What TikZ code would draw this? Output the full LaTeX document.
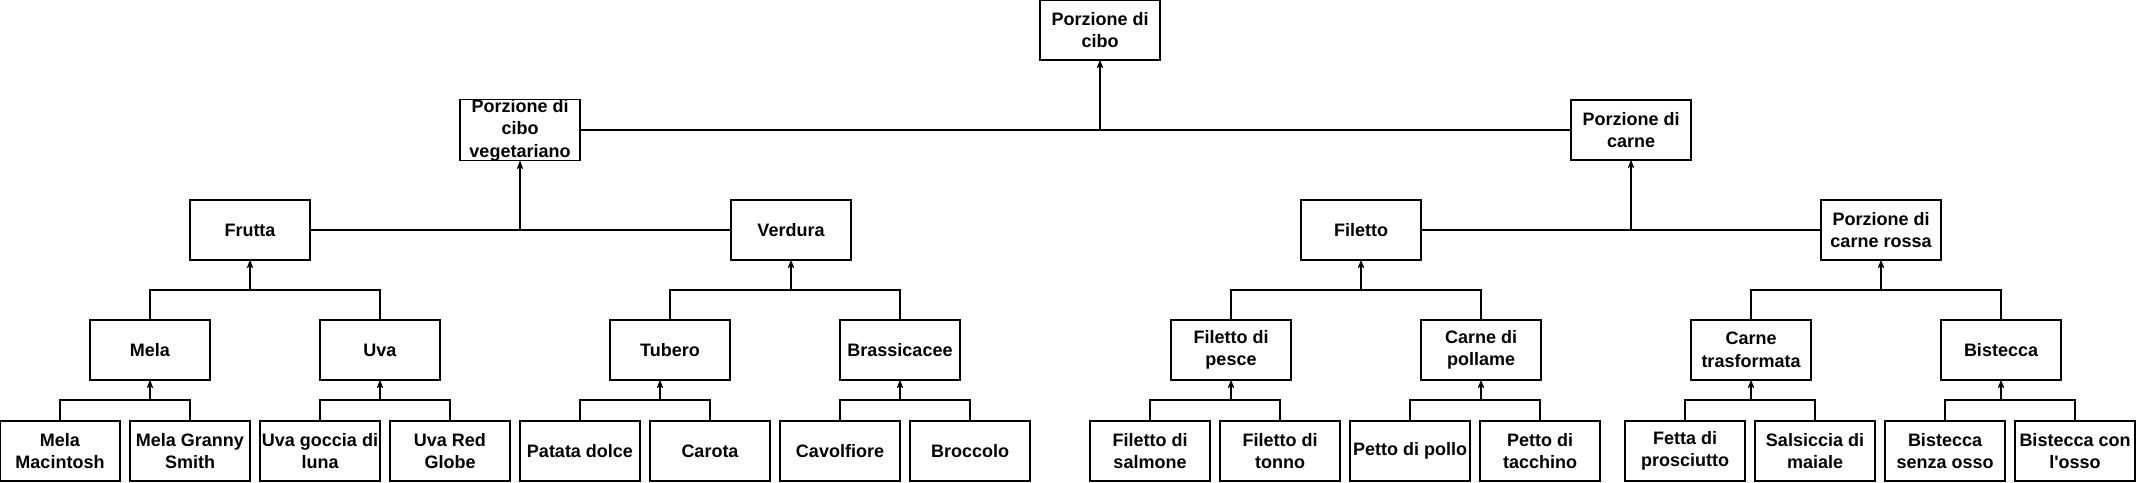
\documentclass[tikz,border=0pt]{standalone}
\usepackage{fontspec}
\setmainfont{Liberation Sans}
\usetikzlibrary{positioning,arrows.meta}

\begin{document}
\begin{tikzpicture}[x=1pt, y=-1pt, line width=1.1pt,
                    food node/.style={rectangle,draw,minimum width=120pt,minimum height=60pt,
                      inner sep=0pt,outer sep=0pt,align=center,
                      font=\bfseries\fontsize{18}{22.5}\selectfont},
                    isa/.style={-{Stealth[length=8pt,width=6pt,inset=2pt]}}]
  \useasboundingbox (0,0) rectangle (2136,482);

  % top levels
  \node[food node] (cibo) at (1100,30) {Porzione di\\cibo};
  \node[food node] (veg) at (520,130) {Porzione di\\cibo\\vegetariano};
  \node[food node] (carne) at (1631,130) {Porzione di\\carne};

  \node[food node] (frutta) at (250,230) {Frutta};
  \node[food node] (verdura) at (791,230) {Verdura};
  \node[food node] (filetto) at (1361,230) {Filetto};
  \node[food node] (rossa) at (1881,230) {Porzione di\\carne rossa};

  \node[food node] (mela) at (150,350) {Mela};
  \node[food node] (uva) at (380,350) {Uva};
  \node[food node] (tubero) at (670,350) {Tubero};
  \node[food node] (brass) at (900,350) {Brassicacee};
  \node[food node] (pesce) at (1231,350) {Filetto di\\pesce};
  \node[food node] (pollame) at (1481,350) {Carne di\\pollame};
  \node[food node] (trasf) at (1751,350) {Carne\\trasformata};
  \node[food node] (bistecca) at (2001,350) {Bistecca};

  % leaves
  \node[food node] (macintosh) at (60,451) {Mela\\Macintosh};
  \node[food node] (granny) [right=10pt of macintosh] {Mela Granny\\Smith};
  \node[food node] (goccia) [right=10pt of granny] {Uva goccia di\\luna};
  \node[food node] (redglobe) [right=10pt of goccia] {Uva Red\\Globe};
  \node[food node] (patata) [right=10pt of redglobe] {Patata dolce};
  \node[food node] (carota) [right=10pt of patata] {Carota};
  \node[food node] (cavolfiore) [right=10pt of carota] {Cavolfiore};
  \node[food node] (broccolo) [right=10pt of cavolfiore] {Broccolo};

  \node[food node] (salmone) at (1150,451) {Filetto di\\salmone};
  \node[food node] (tonno) [right=10pt of salmone] {Filetto di\\tonno};
  \node[food node] (pollo) [right=10pt of tonno] {Petto di pollo};
  \node[food node] (tacchino) [right=10pt of pollo] {Petto di\\tacchino};

  \node[food node] (prosciutto) at (1685,451) {Fetta di\\prosciutto};
  \node[food node] (salsiccia) [right=10pt of prosciutto] {Salsiccia di\\maiale};
  \node[food node] (senzaosso) [right=10pt of salsiccia] {Bistecca\\senza osso};
  \node[food node] (conosso) [right=10pt of senzaosso] {Bistecca con\\l\textquotesingle osso};

  % leaves to level 3
  \draw[isa] (macintosh.north) -- ++(0,-21) -| (mela.south);
  \draw[isa] (granny.north) -- ++(0,-21) -| (mela.south);
  \draw[isa] (goccia.north) -- ++(0,-21) -| (uva.south);
  \draw[isa] (redglobe.north) -- ++(0,-21) -| (uva.south);
  \draw[isa] (patata.north) -- ++(0,-21) -| ([xshift=-10pt]tubero.south);
  \draw[isa] (carota.north) -- ++(0,-21) -| ([xshift=-10pt]tubero.south);
  \draw[isa] (cavolfiore.north) -- ++(0,-21) -| (brass.south);
  \draw[isa] (broccolo.north) -- ++(0,-21) -| (brass.south);
  \draw[isa] (salmone.north) -- ++(0,-21) -| (pesce.south);
  \draw[isa] (tonno.north) -- ++(0,-21) -| (pesce.south);
  \draw[isa] (pollo.north) -- ++(0,-21) -| (pollame.south);
  \draw[isa] (tacchino.north) -- ++(0,-21) -| (pollame.south);
  \draw[isa] (prosciutto.north) -- ++(0,-21) -| (trasf.south);
  \draw[isa] (salsiccia.north) -- ++(0,-21) -| (trasf.south);
  \draw[isa] (senzaosso.north) -- ++(0,-21) -| (bistecca.south);
  \draw[isa] (conosso.north) -- ++(0,-21) -| (bistecca.south);

  % level 3 to level 2
  \draw[isa] (mela.north) -- ++(0,-30) -| (frutta.south);
  \draw[isa] (uva.north) -- ++(0,-30) -| (frutta.south);
  \draw[isa] (tubero.north) -- ++(0,-30) -| (verdura.south);
  \draw[isa] (brass.north) -- ++(0,-30) -| (verdura.south);
  \draw[isa] (pesce.north) -- ++(0,-30) -| (filetto.south);
  \draw[isa] (pollame.north) -- ++(0,-30) -| (filetto.south);
  \draw[isa] (trasf.north) -- ++(0,-30) -| (rossa.south);
  \draw[isa] (bistecca.north) -- ++(0,-30) -| (rossa.south);

  % level 2 to level 1, level 1 to root
  \draw[isa] (frutta.east) -| (veg.south);
  \draw[isa] (verdura.west) -| (veg.south);
  \draw[isa] (filetto.east) -| (carne.south);
  \draw[isa] (rossa.west) -| (carne.south);
  \draw[isa] (veg.east) -| (cibo.south);
  \draw[isa] (carne.west) -| (cibo.south);
\end{tikzpicture}
\end{document}
